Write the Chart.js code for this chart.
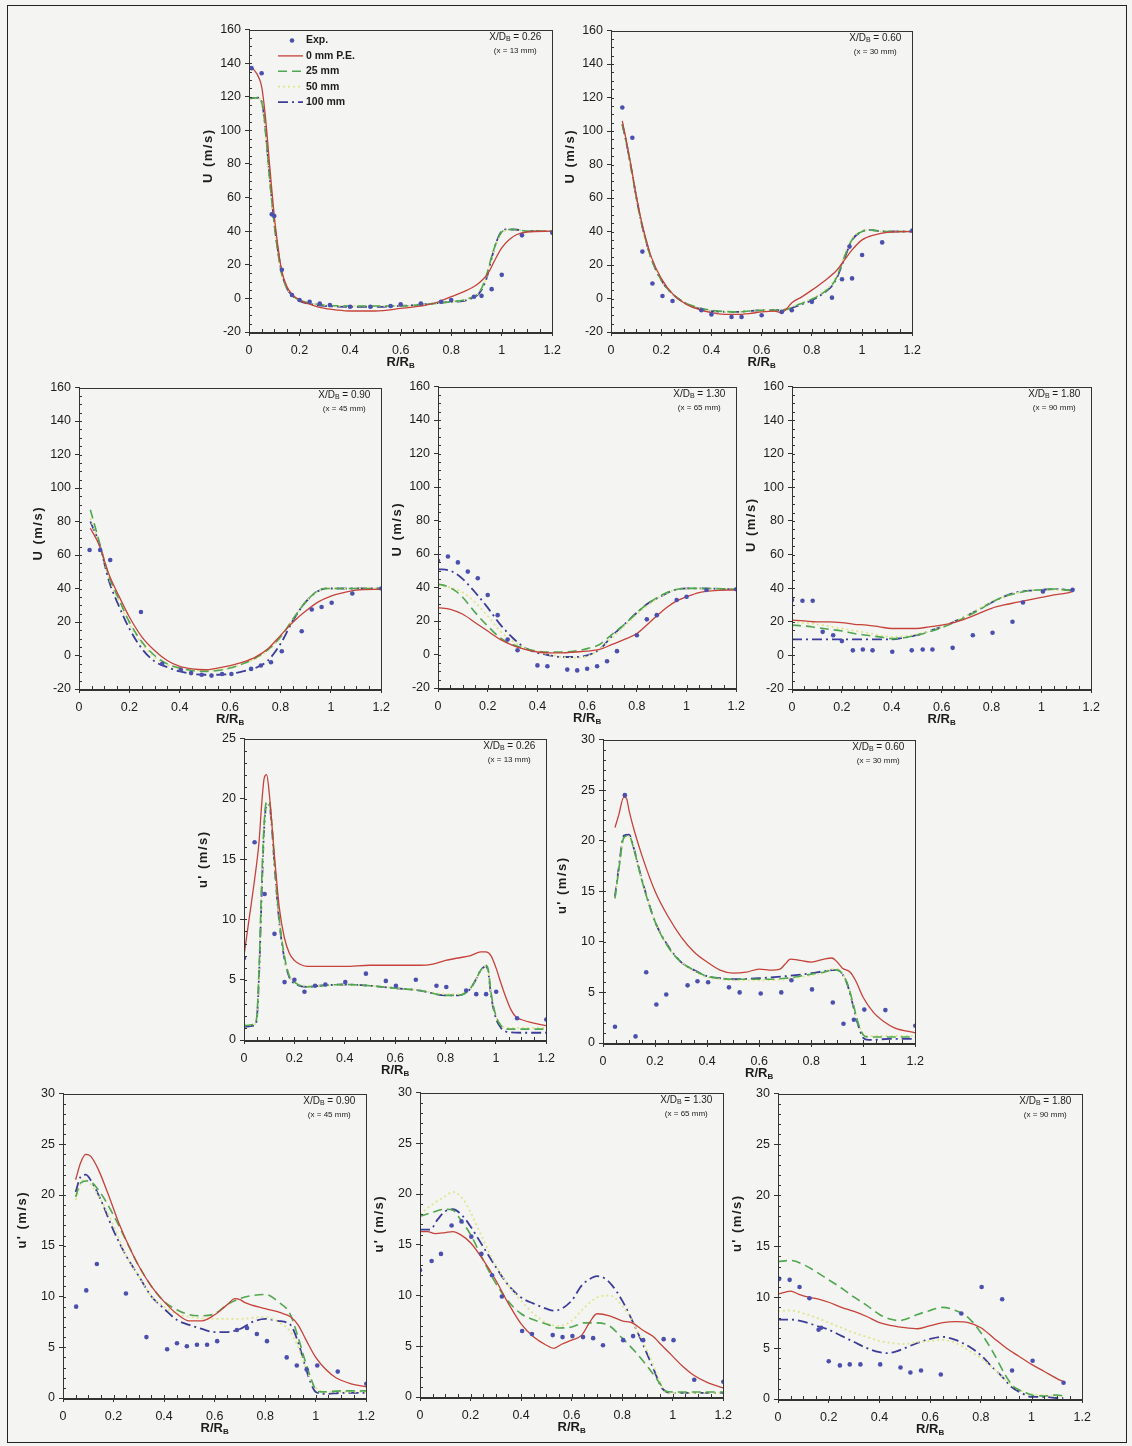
<!DOCTYPE html>
<html>
<head>
<meta charset="utf-8">
<script src="https://cdn.jsdelivr.net/npm/chart.js@4.4.1/dist/chart.umd.min.js"></script>
<style>
  body { margin: 0; background: #f4f4f2; }
  #fig { position: relative; width: 1132px; height: 1446px; background: #f4f4f2; overflow: hidden; }
  #frame { position: absolute; left: 7px; top: 5px; width: 1118px; height: 1436px; border: 1.5px solid #222; }
  canvas { position: absolute; }
</style>
</head>
<body>
<div id="fig"><div id="frame"></div></div>
<script>
// ---- mean velocity U, X/D = 0.26
const U026_EXP = [[0.01,137],[0.05,134],[0.09,50],[0.1,49],[0.13,17],[0.17,2],[0.2,-1],[0.24,-2],[0.28,-3],[0.32,-4],[0.4,-5],[0.48,-5],[0.56,-4.5],[0.6,-3.5],[0.68,-3],[0.76,-2],[0.8,-1],[0.89,1],[0.92,1.5],[0.96,5.5],[1.0,14],[1.08,37.5],[1.2,39]];
const U026_0MM = [[0,138],[0.02,136],[0.04,131],[0.05,126],[0.06,115],[0.07,100],[0.08,82],[0.09,65],[0.1,49],[0.11,36],[0.12,25],[0.13,16],[0.15,7],[0.17,2.5],[0.2,-1],[0.25,-4],[0.3,-6],[0.35,-7],[0.4,-7.5],[0.5,-7.5],[0.6,-6],[0.7,-4],[0.75,-2],[0.8,1],[0.85,4],[0.9,8],[0.93,12],[0.95,16],[0.97,22],[1.0,30],[1.03,35],[1.06,38],[1.1,39.5],[1.2,40]];
const U026_25MM = [[0,119],[0.04,119.5],[0.05,117],[0.06,108],[0.07,92],[0.08,74],[0.09,58],[0.1,44],[0.11,32],[0.12,22],[0.13,14],[0.15,6],[0.17,2],[0.2,-1],[0.25,-3],[0.3,-4],[0.4,-4.5],[0.5,-4.5],[0.6,-4.5],[0.7,-3.5],[0.8,-2],[0.85,-1],[0.88,0.5],[0.9,2],[0.92,6],[0.94,14],[0.96,25],[0.98,34],[1.0,39.5],[1.02,41],[1.05,41],[1.1,40],[1.2,40]];
const U026_50MM = [[0,119],[0.04,119],[0.05,116],[0.06,107],[0.07,91],[0.08,74],[0.09,58],[0.1,44],[0.11,32],[0.12,22],[0.13,14],[0.15,6],[0.17,2],[0.2,-1],[0.25,-3],[0.3,-4],[0.4,-4.5],[0.5,-4.5],[0.6,-4.5],[0.7,-3.5],[0.8,-2],[0.85,-1],[0.88,0.5],[0.9,2],[0.92,6],[0.94,13],[0.96,24],[0.98,33],[1.0,39],[1.02,40.5],[1.05,41],[1.1,40],[1.2,40]];
const U026_100MM = [[0,119],[0.04,119.5],[0.05,117],[0.06,108],[0.07,92],[0.08,75],[0.09,59],[0.1,45],[0.11,33],[0.12,23],[0.13,15],[0.15,6],[0.17,2],[0.2,-1.5],[0.25,-3.5],[0.3,-4.5],[0.4,-5],[0.5,-5],[0.6,-4.5],[0.7,-3.5],[0.8,-2],[0.85,-1.5],[0.88,0],[0.9,1.5],[0.92,5],[0.94,12],[0.96,24],[0.98,34],[1.0,40],[1.02,41],[1.05,41],[1.1,40],[1.2,40]];

// ---- mean velocity U, X/D = 0.60
const U060_EXP = [[0.045,114],[0.085,96],[0.125,28],[0.165,9],[0.205,1.5],[0.245,-1.5],[0.36,-7],[0.4,-9.5],[0.48,-11],[0.52,-11],[0.6,-10],[0.68,-8],[0.72,-7],[0.8,-2],[0.88,0.5],[0.92,11.5],[0.95,31],[0.96,12],[1.0,26],[1.08,33.5],[1.2,40.5]];
const U060_0MM = [[0.045,106],[0.06,95],[0.08,79],[0.1,62],[0.12,47],[0.14,35],[0.16,25],[0.2,12],[0.25,2],[0.3,-3.5],[0.35,-6.5],[0.4,-8.5],[0.45,-9.5],[0.5,-9.5],[0.55,-9],[0.6,-8],[0.65,-7.5],[0.68,-8.5],[0.7,-6],[0.72,-2.5],[0.76,1],[0.8,5],[0.85,10.5],[0.9,17],[0.93,23],[0.96,29],[1.0,35],[1.05,38],[1.1,39.5],[1.2,40]];
const U060_25MM = [[0.045,104],[0.06,94],[0.08,78],[0.1,61],[0.12,46],[0.14,34],[0.16,24],[0.2,11],[0.25,2],[0.3,-3],[0.35,-5.5],[0.4,-7],[0.5,-8],[0.6,-7],[0.65,-7],[0.7,-6.5],[0.75,-3.5],[0.8,-0.5],[0.85,4],[0.88,8],[0.9,13],[0.93,25],[0.96,35],[1.0,40],[1.03,41],[1.08,40],[1.2,40]];
const U060_50MM = [[0.045,104],[0.06,94],[0.08,78],[0.1,61],[0.12,46],[0.14,34],[0.16,24],[0.2,11],[0.25,2],[0.3,-3],[0.35,-5.5],[0.4,-7.5],[0.5,-8],[0.6,-7],[0.65,-7],[0.7,-6],[0.75,-3],[0.8,0],[0.85,4.5],[0.88,9],[0.9,14],[0.93,26],[0.96,36],[1.0,40],[1.03,41],[1.08,40],[1.2,40]];
const U060_100MM = [[0.045,104],[0.06,94],[0.08,78],[0.1,61],[0.12,46],[0.14,34],[0.16,24],[0.2,11],[0.25,2],[0.3,-3],[0.35,-6],[0.4,-7.5],[0.5,-8],[0.6,-7],[0.65,-7],[0.7,-6.5],[0.75,-4],[0.8,-1],[0.85,3.5],[0.88,7.5],[0.9,12.5],[0.93,24],[0.96,35],[1.0,40],[1.03,41],[1.08,40],[1.2,40]];

// ---- mean velocity U, X/D = 0.90
const U090_EXP = [[0.042,63],[0.084,63],[0.124,57],[0.246,26],[0.33,-5],[0.404,-8.5],[0.445,-10.5],[0.487,-11.5],[0.526,-12],[0.568,-11],[0.605,-11],[0.683,-8],[0.722,-6],[0.762,-4],[0.805,2.5],[0.884,14.5],[0.924,27.5],[0.963,29],[1.003,31.5],[1.085,37],[1.2,40]];
const U090_0MM = [[0.045,76],[0.08,66],[0.12,48],[0.16,35],[0.2,23],[0.25,11],[0.3,3],[0.35,-3],[0.4,-6.5],[0.45,-8],[0.5,-8.5],[0.55,-7.5],[0.6,-6],[0.65,-4],[0.7,-1],[0.75,4],[0.8,12],[0.85,20],[0.9,26.5],[0.95,32],[1.0,35.5],[1.05,37.5],[1.1,39],[1.2,39.5]];
const U090_25MM = [[0.045,87],[0.06,79],[0.08,68],[0.12,47],[0.16,33],[0.2,20],[0.25,8],[0.3,0],[0.35,-5],[0.4,-7.5],[0.45,-9],[0.5,-9.5],[0.55,-9],[0.6,-7.5],[0.65,-5],[0.7,-1.5],[0.75,3.5],[0.8,11],[0.85,22],[0.9,32],[0.95,39],[0.98,40],[1.2,40]];
const U090_50MM = [[0.045,82],[0.08,67],[0.12,46],[0.16,32],[0.2,19],[0.25,7],[0.3,-1],[0.35,-5.5],[0.4,-8],[0.45,-9],[0.5,-9],[0.55,-8.5],[0.6,-7.5],[0.65,-5],[0.7,-2],[0.75,3],[0.8,11],[0.85,22],[0.9,32],[0.95,38.5],[0.98,40],[1.2,40]];
const U090_100MM = [[0.045,80],[0.08,67],[0.12,44],[0.16,29],[0.2,16],[0.25,4],[0.3,-3.5],[0.35,-7],[0.4,-9.5],[0.45,-11],[0.5,-11.5],[0.55,-11.5],[0.6,-11],[0.65,-9.5],[0.7,-7.5],[0.75,-3],[0.8,7],[0.85,21],[0.9,32],[0.95,38.5],[0.98,40],[1.2,40]];

// ---- mean velocity U, X/D = 1.30
const U130_EXP = [[0,56],[0.04,58.5],[0.08,55],[0.12,49.5],[0.16,45.5],[0.2,35.5],[0.24,23.5],[0.28,9],[0.32,2.5],[0.4,-6.5],[0.44,-7],[0.52,-9],[0.56,-9.5],[0.6,-8.5],[0.64,-7],[0.68,-4],[0.72,2],[0.8,11.5],[0.84,21],[0.88,23.5],[0.96,32.5],[1.0,34.5],[1.08,38.5],[1.2,39]];
const U130_0MM = [[0,28],[0.05,27],[0.1,24],[0.15,19],[0.2,14],[0.25,9],[0.3,5.5],[0.35,3],[0.4,1.5],[0.45,1],[0.5,1],[0.55,1.5],[0.6,2],[0.65,3],[0.7,6],[0.75,9],[0.8,12.5],[0.85,19],[0.88,23],[0.92,28],[0.96,32],[1.0,34.5],[1.05,37],[1.1,38],[1.2,38.5]];
const U130_25MM = [[0,42],[0.03,41],[0.07,38],[0.1,34],[0.15,25],[0.2,17],[0.25,10],[0.3,6],[0.35,3.5],[0.4,2],[0.45,1.5],[0.5,1.5],[0.55,2],[0.6,3.5],[0.65,6],[0.7,12],[0.75,18],[0.8,25],[0.85,31],[0.9,35.5],[0.95,38.5],[1.0,39.5],[1.05,39.5],[1.2,39]];
const U130_50MM = [[0,41],[0.05,40],[0.1,37],[0.15,31],[0.2,23],[0.25,14],[0.3,8],[0.35,4],[0.4,1.5],[0.45,0],[0.5,-1.5],[0.55,-2],[0.6,-1],[0.65,3],[0.7,10],[0.75,17],[0.8,24],[0.85,30],[0.9,35],[0.95,38.5],[1.0,39.5],[1.2,39]];
const U130_100MM = [[0,51],[0.05,50],[0.1,45],[0.15,37],[0.2,28],[0.25,18],[0.3,10],[0.35,4],[0.4,1],[0.45,-0.5],[0.5,-1.5],[0.55,-1.5],[0.6,-0.5],[0.65,3],[0.7,11],[0.75,18],[0.8,25],[0.85,31],[0.9,35],[0.95,38.5],[1.0,39.5],[1.2,39]];

// ---- mean velocity U, X/D = 1.80
const U180_EXP = [[0,33],[0.042,32.5],[0.083,32.5],[0.123,14],[0.165,12],[0.2,8.5],[0.244,3],[0.284,3.5],[0.323,3],[0.402,2.2],[0.48,3],[0.524,3.5],[0.563,3.5],[0.644,4.5],[0.725,12],[0.804,13.5],[0.884,20],[0.926,31.5],[1.006,38],[1.125,39]];
const U180_0MM = [[0,21],[0.05,20.5],[0.1,20],[0.15,20],[0.2,19.5],[0.25,18.5],[0.3,18],[0.35,17],[0.4,16],[0.45,16],[0.5,16],[0.55,17],[0.6,18],[0.65,19.5],[0.7,22],[0.75,25],[0.8,28],[0.85,30],[0.9,31.5],[0.95,33],[1.0,34.5],[1.05,36],[1.1,37],[1.125,38]];
const U180_25MM = [[0,18],[0.05,17.5],[0.1,16.5],[0.15,15.5],[0.2,14.5],[0.25,13],[0.3,12],[0.35,11],[0.4,10],[0.45,10.5],[0.5,12],[0.55,14],[0.6,16.5],[0.65,19.5],[0.7,23],[0.75,27],[0.8,31.5],[0.85,35],[0.9,37],[0.95,38.5],[1.0,39],[1.05,39.5],[1.1,39],[1.125,38.5]];
const U180_50MM = [[0,20],[0.1,18.5],[0.2,16],[0.3,13.5],[0.4,11],[0.5,12.5],[0.6,17],[0.7,23.5],[0.8,32],[0.9,37],[1.0,39],[1.125,38.5]];
const U180_100MM = [[0,9.5],[0.1,9.5],[0.2,9.5],[0.3,9.5],[0.4,9.5],[0.45,10.5],[0.5,12],[0.55,14.5],[0.6,17],[0.65,20],[0.7,23.5],[0.75,27.5],[0.8,31.5],[0.85,35],[0.9,37.5],[0.95,38.5],[1.0,39],[1.05,39.5],[1.1,39],[1.125,38.5]];

// ---- turbulence u', X/D = 0.26
const UP026_EXP = [[0,6.8],[0.042,16.4],[0.082,12.1],[0.121,8.8],[0.161,4.8],[0.2,5],[0.24,4],[0.282,4.5],[0.323,4.6],[0.402,4.8],[0.484,5.5],[0.563,4.9],[0.603,4.5],[0.682,5],[0.764,4.5],[0.803,4.4],[0.882,4.1],[0.922,3.8],[0.961,3.8],[1.001,4],[1.084,1.8],[1.2,1.7]];
const UP026_0MM = [[0,7],[0.02,10],[0.04,13],[0.06,16.5],[0.07,19.5],[0.08,21.7],[0.09,22],[0.1,20.5],[0.12,15.5],[0.14,11],[0.16,8.5],[0.18,7.2],[0.2,6.6],[0.22,6.3],[0.25,6.1],[0.3,6.1],[0.4,6.1],[0.5,6.2],[0.6,6.2],[0.7,6.2],[0.75,6.3],[0.8,6.6],[0.85,6.8],[0.9,7],[0.94,7.3],[0.96,7.3],[0.98,7],[1.0,6],[1.02,4.7],[1.04,3.5],[1.06,2.5],[1.08,1.9],[1.1,1.7],[1.15,1.4],[1.2,1.2]];
const UP026_25MM = [[0,1.2],[0.04,1.3],[0.05,1.8],[0.06,6],[0.07,13],[0.08,18],[0.09,19.8],[0.1,19.8],[0.11,18],[0.12,15],[0.14,10],[0.16,7],[0.18,5.3],[0.2,4.8],[0.25,4.4],[0.3,4.5],[0.4,4.6],[0.5,4.5],[0.6,4.3],[0.7,4.1],[0.8,3.7],[0.85,3.7],[0.88,3.9],[0.9,4.3],[0.92,5],[0.94,5.8],[0.96,6.2],[0.97,5.8],[0.98,4],[1.0,2],[1.02,1.2],[1.04,0.9],[1.1,0.9],[1.2,0.9]];
const UP026_50MM = [[0,1.2],[0.04,1.3],[0.05,1.8],[0.06,6],[0.07,12.5],[0.08,17.5],[0.09,19.5],[0.1,19.6],[0.11,18],[0.12,15],[0.14,10],[0.16,7],[0.18,5.3],[0.2,4.8],[0.25,4.5],[0.3,4.5],[0.4,4.6],[0.5,4.5],[0.6,4.3],[0.7,4.1],[0.8,3.8],[0.85,3.8],[0.88,4],[0.9,4.4],[0.92,5],[0.94,5.7],[0.96,6.1],[0.97,5.7],[0.98,4],[1.0,2],[1.02,1.3],[1.04,1],[1.1,1],[1.2,1]];
const UP026_100MM = [[0,1.1],[0.04,1.2],[0.05,1.6],[0.06,5.5],[0.07,12],[0.08,17.5],[0.09,19.5],[0.1,19.5],[0.11,17.8],[0.12,14.8],[0.14,9.8],[0.16,6.8],[0.18,5.2],[0.2,4.7],[0.25,4.4],[0.3,4.5],[0.4,4.6],[0.5,4.5],[0.6,4.3],[0.7,4.1],[0.8,3.7],[0.85,3.7],[0.88,3.9],[0.9,4.3],[0.92,5],[0.94,5.8],[0.96,6.1],[0.97,5.6],[0.98,3.8],[1.0,1.8],[1.02,1],[1.04,0.7],[1.1,0.6],[1.2,0.6]];

// ---- turbulence u', X/D = 0.60
const UP060_EXP = [[0.046,1.6],[0.084,24.5],[0.125,0.65],[0.166,7],[0.205,3.8],[0.243,4.8],[0.325,5.7],[0.363,6.1],[0.404,6],[0.484,5.5],[0.525,5],[0.606,4.9],[0.685,5],[0.724,6.2],[0.803,5.3],[0.883,4],[0.924,1.9],[0.964,2.3],[1.004,3.3],[1.085,3.25],[1.2,1.7]];
const UP060_0MM = [[0.046,21.3],[0.06,22.5],[0.08,24.3],[0.09,24.2],[0.1,23],[0.12,21],[0.15,18.5],[0.2,15],[0.25,12.5],[0.3,10.5],[0.35,9],[0.4,8],[0.45,7.2],[0.5,6.9],[0.55,7],[0.6,7.3],[0.65,7.2],[0.68,7.3],[0.7,7.8],[0.72,8.3],[0.75,8.2],[0.8,8],[0.85,8.3],[0.88,8.4],[0.9,8],[0.92,7.4],[0.95,7],[0.97,6.2],[1.0,4.5],[1.04,3],[1.08,2.1],[1.12,1.5],[1.2,1]];
const UP060_25MM = [[0.046,14.3],[0.06,17],[0.08,20.3],[0.1,20.5],[0.12,19],[0.15,16],[0.2,12],[0.25,9.5],[0.3,8],[0.35,7.2],[0.4,6.6],[0.45,6.4],[0.5,6.3],[0.6,6.3],[0.7,6.4],[0.8,6.8],[0.85,7],[0.88,7.2],[0.9,7.2],[0.92,6.8],[0.94,5.8],[0.96,4],[0.98,2],[1.0,0.8],[1.02,0.6],[1.1,0.6],[1.2,0.6]];
const UP060_50MM = [[0.046,14.3],[0.06,17],[0.08,20.2],[0.1,20.4],[0.12,19],[0.15,16],[0.2,12],[0.25,9.5],[0.3,8],[0.35,7.1],[0.4,6.5],[0.45,6.3],[0.5,6.2],[0.6,6.2],[0.7,6.3],[0.8,6.7],[0.85,7],[0.88,7.3],[0.9,7.3],[0.92,6.9],[0.94,5.8],[0.96,4],[0.98,2],[1.0,0.9],[1.02,0.7],[1.1,0.7],[1.2,0.7]];
const UP060_100MM = [[0.046,14.5],[0.06,17.2],[0.08,20.5],[0.1,20.6],[0.12,19.1],[0.15,16.1],[0.2,12],[0.25,9.6],[0.3,8],[0.35,7.2],[0.4,6.6],[0.45,6.4],[0.5,6.3],[0.6,6.4],[0.7,6.6],[0.8,6.9],[0.85,7.1],[0.88,7.2],[0.9,7.2],[0.92,6.8],[0.94,5.7],[0.96,3.8],[0.98,1.8],[1.0,0.5],[1.02,0.3],[1.1,0.4],[1.2,0.4]];

// ---- turbulence u', X/D = 0.90
const UP090_EXP = [[0.052,9],[0.092,10.6],[0.134,13.2],[0.249,10.3],[0.33,6],[0.412,4.8],[0.451,5.4],[0.49,5.1],[0.53,5.25],[0.57,5.25],[0.61,5.6],[0.688,6.7],[0.728,6.9],[0.767,6.3],[0.807,5.6],[0.885,4],[0.925,3.2],[0.964,2.8],[1.006,3.2],[1.087,2.6],[1.2,1.4]];
const UP090_0MM = [[0.05,21.5],[0.07,23.2],[0.09,24],[0.11,23.8],[0.14,22.5],[0.18,20],[0.22,17.3],[0.26,15],[0.3,13],[0.35,11],[0.4,9.5],[0.45,8.3],[0.5,7.6],[0.55,7.6],[0.6,8.2],[0.65,9.2],[0.68,9.8],[0.7,9.7],[0.72,9.4],[0.8,8.8],[0.86,8.4],[0.9,8],[0.93,7.2],[0.96,5.8],[1.0,4],[1.04,2.8],[1.08,2],[1.14,1.4],[1.2,1.1]];
const UP090_25MM = [[0.05,19.8],[0.07,21.2],[0.1,21.4],[0.14,20.5],[0.2,18],[0.25,15.5],[0.3,13],[0.35,11],[0.4,9.5],[0.45,8.7],[0.5,8.2],[0.55,8.1],[0.6,8.3],[0.65,9.2],[0.7,9.8],[0.75,10.1],[0.8,10.2],[0.85,9.5],[0.9,8.2],[0.93,6],[0.96,3.5],[0.98,2],[1.0,0.8],[1.02,0.6],[1.1,0.7],[1.2,0.7]];
const UP090_50MM = [[0.05,19.5],[0.08,21.5],[0.1,21.3],[0.15,19.5],[0.2,17],[0.25,14],[0.3,12],[0.35,10],[0.4,9],[0.45,8.3],[0.5,8],[0.6,7.8],[0.7,7.8],[0.8,8],[0.85,7.5],[0.9,6.5],[0.93,5],[0.96,3],[1.0,1],[1.05,0.6],[1.2,0.6]];
const UP090_100MM = [[0.05,20.3],[0.07,21.8],[0.09,22],[0.12,21],[0.15,19.5],[0.2,16.5],[0.25,14],[0.3,12],[0.35,10],[0.4,8.8],[0.45,7.7],[0.5,7.2],[0.55,6.8],[0.6,6.5],[0.65,6.5],[0.7,6.8],[0.75,7.5],[0.8,7.8],[0.85,7.6],[0.9,7.2],[0.93,5.5],[0.96,3],[0.98,1.5],[1.0,0.6],[1.04,0.4],[1.1,0.5],[1.2,0.5]];

// ---- turbulence u', X/D = 1.30
const UP130_EXP = [[0,12.5],[0.046,13.4],[0.083,14.1],[0.125,16.9],[0.164,17.3],[0.203,15.8],[0.243,14.1],[0.285,12],[0.324,9.9],[0.404,6.5],[0.443,6.2],[0.525,6.1],[0.564,5.9],[0.603,6],[0.645,5.9],[0.685,5.8],[0.724,5.1],[0.804,5.6],[0.843,6],[0.883,5.6],[0.964,5.7],[1.003,5.6],[1.085,1.7],[1.2,1.5]];
const UP130_0MM = [[0,16.3],[0.03,16.3],[0.06,16.1],[0.1,16.2],[0.13,16.3],[0.16,16],[0.2,15.2],[0.25,13.5],[0.3,11.5],[0.35,9.2],[0.4,7.2],[0.45,5.9],[0.5,5.1],[0.53,4.8],[0.56,5.2],[0.6,5.6],[0.64,6.1],[0.67,7.3],[0.7,8.2],[0.75,8],[0.8,7.5],[0.84,7.3],[0.88,6.6],[0.92,6],[0.96,5],[1.0,4],[1.04,3],[1.08,2.2],[1.14,1.4],[1.2,0.9]];
const UP130_25MM = [[0,17.8],[0.05,18.2],[0.1,18.5],[0.13,18.4],[0.16,17.5],[0.2,16],[0.25,13.5],[0.3,11.2],[0.35,9.4],[0.4,8.2],[0.45,7.6],[0.5,7.2],[0.55,6.8],[0.6,6.9],[0.65,7.3],[0.7,7.3],[0.75,7],[0.8,5.8],[0.85,4.5],[0.9,3],[0.95,1.3],[0.97,0.6],[1.0,0.5],[1.1,0.5],[1.2,0.5]];
const UP130_50MM = [[0,18],[0.05,19],[0.1,19.8],[0.13,20.2],[0.17,19.5],[0.2,18.2],[0.25,15.5],[0.3,13],[0.35,11],[0.4,9.5],[0.45,8.2],[0.5,7.3],[0.55,7],[0.6,7.5],[0.65,8.8],[0.7,9.8],[0.75,10],[0.8,9],[0.85,7],[0.9,4.5],[0.95,1.5],[0.97,0.5],[1.0,0.4],[1.2,0.4]];
const UP130_100MM = [[0,16.5],[0.04,16.5],[0.07,17.5],[0.1,18.3],[0.13,18.5],[0.17,17.8],[0.2,16.8],[0.25,14.8],[0.3,12.8],[0.35,11],[0.4,9.8],[0.45,9.2],[0.5,8.7],[0.53,8.5],[0.56,8.7],[0.6,9.5],[0.64,11],[0.67,11.6],[0.7,11.9],[0.73,11.7],[0.76,11],[0.8,9.5],[0.84,7.5],[0.88,5.3],[0.92,3],[0.96,0.8],[1.0,0.4],[1.1,0.4],[1.2,0.4]];

// ---- turbulence u', X/D = 1.80
const UP180_EXP = [[0.005,11.8],[0.046,11.7],[0.085,11],[0.124,9.9],[0.16,6.8],[0.17,7],[0.2,3.7],[0.244,3.3],[0.283,3.4],[0.325,3.4],[0.403,3.4],[0.483,3.1],[0.522,2.6],[0.564,2.8],[0.642,2.4],[0.723,8.4],[0.803,11],[0.884,9.8],[0.923,2.8],[1.004,3.75],[1.126,1.6]];
const UP180_0MM = [[0,10.3],[0.03,10.5],[0.05,10.6],[0.08,10.3],[0.12,10],[0.16,9.8],[0.2,9.5],[0.25,9],[0.3,8.6],[0.35,8.1],[0.4,7.5],[0.45,7.2],[0.5,7],[0.55,6.9],[0.6,7.2],[0.65,7.5],[0.7,7.6],[0.75,7.5],[0.8,7],[0.85,6],[0.9,5],[0.95,4.2],[1.0,3.4],[1.05,2.7],[1.1,2],[1.125,1.7]];
const UP180_25MM = [[0,13.5],[0.05,13.6],[0.1,13.2],[0.15,12.5],[0.2,11.7],[0.25,10.9],[0.3,10],[0.35,9.2],[0.4,8.3],[0.45,7.8],[0.48,7.7],[0.5,7.8],[0.55,8.3],[0.6,8.7],[0.65,9],[0.7,8.7],[0.75,8],[0.8,6.5],[0.85,4.5],[0.9,2.2],[0.93,1.2],[0.96,0.8],[1.0,0.4],[1.05,0.3],[1.1,0.4],[1.125,0.3]];
const UP180_50MM = [[0,8.6],[0.05,8.7],[0.1,8.4],[0.15,8],[0.2,7.5],[0.25,7],[0.3,6.5],[0.35,6.1],[0.4,5.7],[0.45,5.5],[0.5,5.4],[0.55,5.6],[0.6,5.7],[0.65,5.8],[0.7,5.5],[0.75,4.8],[0.8,4],[0.85,3],[0.9,1.8],[0.93,1.2],[1.0,0.5],[1.125,0.3]];
const UP180_100MM = [[0,7.8],[0.05,7.8],[0.1,7.6],[0.15,7.2],[0.2,6.8],[0.25,6.2],[0.3,5.6],[0.35,5],[0.4,4.6],[0.43,4.5],[0.47,4.7],[0.5,5],[0.55,5.5],[0.6,5.9],[0.65,6.1],[0.7,5.8],[0.75,5.2],[0.8,4.3],[0.85,3],[0.88,2.3],[0.92,1.2],[0.96,0.6],[1.0,0.2],[1.05,0.2],[1.1,0.1],[1.125,0.1]];

const SERIES_NAMES = ['Exp.', '0 mm P.E.', '25 mm', '50 mm', '100 mm'];
const U_TICKS = [-20, 160, 20, 5];     // min, max, step, minor step
const UP25_TICKS = [0, 25, 5, 1];
const UP30_TICKS = [0, 30, 5, 1];

const STYLES = [
  { color: '#4b50ae', dots: true },
  { color: '#c6423a', width: 1.3, dash: [] },
  { color: '#4fa84f', width: 1.6, dash: [9, 5] },
  { color: '#dfe58c', width: 1.8, dash: [2, 3] },
  { color: '#3b3d98', width: 1.8, dash: [10, 4, 2, 4] }
];

// box = plot area [left, top, right, bottom]; tdy = shift of the y title from the plot middle
const panels = [
  { box: [249, 26, 554, 332], y: U_TICKS, yTitle: 'U (m/s)', tdy: -25, xd: '0.26', xmm: '13', legend: true,
    data: [U026_EXP, U026_0MM, U026_25MM, U026_50MM, U026_100MM] },
  { box: [611, 27, 914, 332], y: U_TICKS, yTitle: 'U (m/s)', tdy: -25, xd: '0.60', xmm: '30',
    data: [U060_EXP, U060_0MM, U060_25MM, U060_50MM, U060_100MM] },
  { box: [79, 384, 383, 689], y: U_TICKS, yTitle: 'U (m/s)', tdy: -5, xd: '0.90', xmm: '45',
    data: [U090_EXP, U090_0MM, U090_25MM, U090_50MM, U090_100MM] },
  { box: [438, 383, 738, 688], y: U_TICKS, yTitle: 'U (m/s)', tdy: -8, xd: '1.30', xmm: '65',
    data: [U130_EXP, U130_0MM, U130_25MM, U130_50MM, U130_100MM] },
  { box: [792, 383, 1093, 689], y: U_TICKS, yTitle: 'U (m/s)', tdy: -13, xd: '1.80', xmm: '90',
    data: [U180_EXP, U180_0MM, U180_25MM, U180_50MM, U180_100MM] },
  { box: [244, 735, 548, 1040], y: UP25_TICKS, yTitle: "u' (m/s)", tdy: -30, xd: '0.26', xmm: '13',
    data: [UP026_EXP, UP026_0MM, UP026_25MM, UP026_50MM, UP026_100MM] },
  { box: [603, 736, 917, 1043], y: UP30_TICKS, yTitle: "u' (m/s)", tdy: -6, xd: '0.60', xmm: '30',
    data: [UP060_EXP, UP060_0MM, UP060_25MM, UP060_50MM, UP060_100MM] },
  { box: [63, 1090, 368, 1398], y: UP30_TICKS, yTitle: "u' (m/s)", tdy: -26, xd: '0.90', xmm: '45',
    data: [UP090_EXP, UP090_0MM, UP090_25MM, UP090_50MM, UP090_100MM] },
  { box: [420, 1089, 725, 1397], y: UP30_TICKS, yTitle: "u' (m/s)", tdy: -21, xd: '1.30', xmm: '65',
    data: [UP130_EXP, UP130_0MM, UP130_25MM, UP130_50MM, UP130_100MM] },
  { box: [778, 1090, 1084, 1399], y: UP30_TICKS, yTitle: "u' (m/s)", tdy: -23, xd: '1.80', xmm: '90',
    data: [UP180_EXP, UP180_0MM, UP180_25MM, UP180_50MM, UP180_100MM] }
];

const FONT = "'Liberation Sans', Arial, sans-serif";
const INK = '#1c1c1c';
const padL = 4, padR = 14, padT = 8, padB = 4, yW = 50, xH = 40;

// text made of pieces, some of them lowered as subscript
function drawParts(ctx, parts, cx, cy) {
  let w = 0;
  parts.forEach(p => { ctx.font = p[1]; w += ctx.measureText(p[0]).width; });
  let x = cx - w / 2;
  ctx.textAlign = 'left';
  ctx.textBaseline = 'middle';
  parts.forEach(p => {
    ctx.font = p[1];
    ctx.fillText(p[0], x, cy + (p[2] || 0));
    x += ctx.measureText(p[0]).width;
  });
}

const decor = {
  id: 'decor',
  afterDraw(chart, args, o) {
    const { ctx, chartArea: a, scales: { x, y } } = chart;
    ctx.save();
    ctx.strokeStyle = '#333';
    ctx.lineWidth = 1;
    ctx.strokeRect(Math.round(a.left) + 0.5, Math.round(a.top) + 0.5, Math.round(a.right - a.left), Math.round(a.bottom - a.top));

    // inward minor ticks
    ctx.beginPath();
    for (let v = o.ticks[0]; v <= o.ticks[1] + 1e-9; v += o.ticks[3]) {
      const py = Math.round(y.getPixelForValue(v)) + 0.5;
      ctx.moveTo(a.left, py); ctx.lineTo(a.left + 3, py);
    }
    for (let v = 0; v <= 1.2 + 1e-9; v += 0.05) {
      const px = Math.round(x.getPixelForValue(v)) + 0.5;
      ctx.moveTo(px, a.bottom); ctx.lineTo(px, a.bottom - 3);
    }
    ctx.stroke();

    ctx.fillStyle = INK;
    // y title
    ctx.save();
    ctx.translate(a.left - 41, (a.top + a.bottom) / 2 + o.tdy);
    ctx.rotate(-Math.PI / 2);
    ctx.font = 'bold 13px ' + FONT;
    ctx.letterSpacing = '1.5px';
    ctx.textAlign = 'center';
    ctx.textBaseline = 'middle';
    ctx.fillText(o.yTitle, 0, 0);
    ctx.restore();

    // x title R/R_B
    drawParts(ctx, [['R/R', 'bold 13px ' + FONT], ['B', 'bold 8px ' + FONT, 4]], (a.left + a.right) / 2, a.bottom + 30);

    // station label
    const cx = a.right - 37;
    drawParts(ctx, [['X/D', '10px ' + FONT], ['B', '7px ' + FONT, 2], [' = ' + o.xd, '10px ' + FONT]], cx, a.top + 8);
    drawParts(ctx, [['(x = ' + o.xmm + ' mm)', '8px ' + FONT]], cx, a.top + 21);

    // legend inside the first panel
    if (o.legend) {
      chart.data.datasets.forEach((ds, i) => {
        const yy = a.top + 11 + i * 15.4;
        const st = STYLES[i];
        if (st.dots) {
          ctx.beginPath();
          ctx.fillStyle = st.color;
          ctx.arc(a.left + 43, yy, 2.3, 0, Math.PI * 2);
          ctx.fill();
        } else {
          ctx.beginPath();
          ctx.strokeStyle = st.color;
          ctx.lineWidth = st.width;
          ctx.setLineDash(st.dash);
          ctx.moveTo(a.left + 29, yy);
          ctx.lineTo(a.left + 54, yy);
          ctx.stroke();
          ctx.setLineDash([]);
        }
        ctx.fillStyle = INK;
        ctx.font = 'bold 10.5px ' + FONT;
        ctx.textAlign = 'left';
        ctx.textBaseline = 'middle';
        ctx.fillText(ds.label, a.left + 57, yy);
      });
    }
    ctx.restore();
  }
};

const fig = document.getElementById('fig');

panels.forEach(p => {
  const [L, T, R, B] = p.box;
  const cv = document.createElement('canvas');
  cv.width = padL + yW + (R - L) + padR;
  cv.height = padT + (B - T) + xH + padB;
  cv.style.left = (L - yW - padL) + 'px';
  cv.style.top = (T - padT) + 'px';
  fig.appendChild(cv);

  const datasets = p.data.map((pts, i) => {
    const st = STYLES[i];
    const base = {
      label: SERIES_NAMES[i],
      data: pts.map(d => ({ x: d[0], y: d[1] }))
    };
    if (st.dots) {
      return Object.assign(base, {
        showLine: false, pointRadius: 2.3, pointBackgroundColor: st.color,
        pointBorderWidth: 0, borderColor: st.color
      });
    }
    return Object.assign(base, {
      showLine: true, pointRadius: 0, borderColor: st.color, borderWidth: st.width,
      borderDash: st.dash, cubicInterpolationMode: 'monotone', fill: false
    });
  });

  new Chart(cv, {
    type: 'scatter',
    data: { datasets },
    options: {
      responsive: false,
      animation: false,
      events: [],
      layout: { padding: { left: padL, right: padR, top: padT, bottom: padB } },
      plugins: {
        legend: { display: false },
        tooltip: { enabled: false },
        decor: { ticks: p.y, yTitle: p.yTitle, tdy: p.tdy, xd: p.xd, xmm: p.xmm, legend: !!p.legend }
      },
      scales: {
        x: {
          type: 'linear', min: 0, max: 1.2,
          afterFit: s => { s.height = xH; },
          ticks: {
            stepSize: 0.2, color: INK, padding: 7, maxRotation: 0,
            font: { family: FONT, size: 12.5 },
            callback: v => String(Math.round(v * 10) / 10)
          },
          grid: { drawOnChartArea: false, drawTicks: true, tickLength: 4, color: '#333' },
          border: { color: '#333' }
        },
        y: {
          type: 'linear', min: p.y[0], max: p.y[1],
          afterFit: s => { s.width = yW; },
          ticks: {
            stepSize: p.y[2], color: INK, padding: 4,
            font: { family: FONT, size: 12.5 }
          },
          grid: { drawOnChartArea: false, drawTicks: true, tickLength: 4, color: '#333' },
          border: { color: '#333' }
        }
      }
    },
    plugins: [decor]
  });
});
</script>
</body>
</html>
